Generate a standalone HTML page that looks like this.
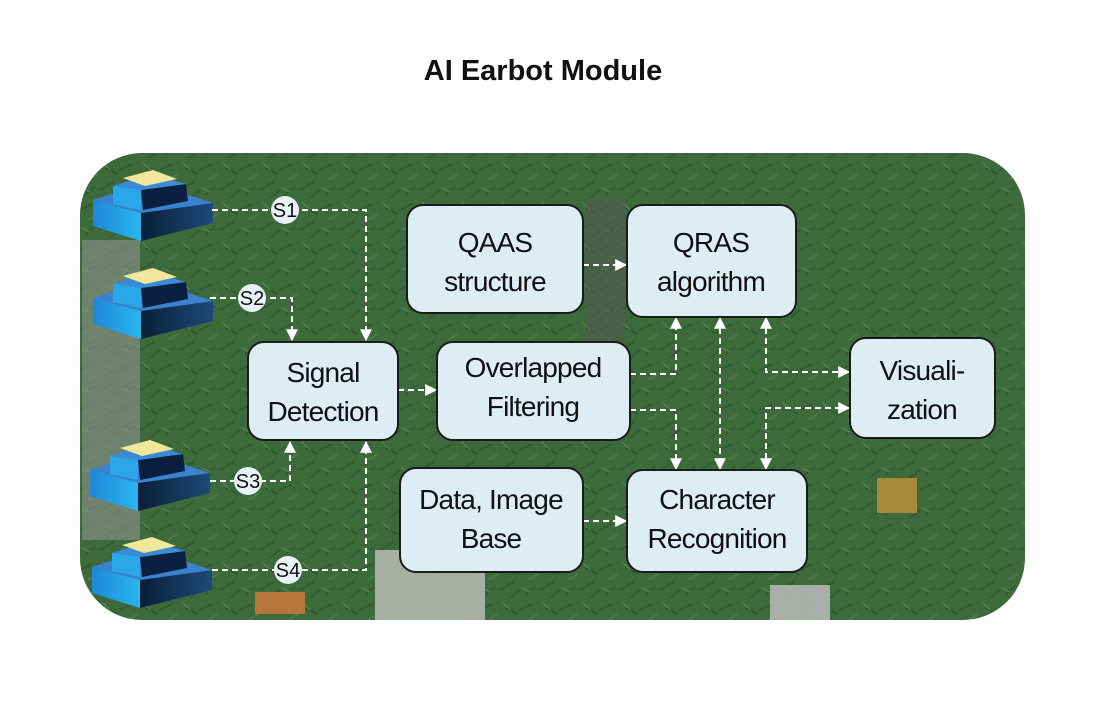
<!DOCTYPE html>
<html><head><meta charset="utf-8"><style>
html,body{margin:0;padding:0;background:#fff;width:1115px;height:725px;overflow:hidden}
svg{display:block}
text{font-family:"Liberation Sans",Arial,sans-serif}
</style></head><body>
<svg width="1115" height="725" viewBox="0 0 1115 725" xmlns="http://www.w3.org/2000/svg">
<defs>
<linearGradient id="cy" x1="0" y1="0" x2="1" y2="0"><stop offset="0" stop-color="#1e88d8"/><stop offset="1" stop-color="#29b6f0"/></linearGradient>
<linearGradient id="dk" x1="0" y1="0" x2="1" y2="0"><stop offset="0" stop-color="#0a1e38"/><stop offset="1" stop-color="#1d4a78"/></linearGradient>
<marker id="ar" viewBox="0 0 10 10" refX="9" refY="5" markerWidth="12" markerHeight="12" markerUnits="userSpaceOnUse" orient="auto-start-reverse"><path d="M0,0L10,5L0,10z" fill="#fff"/></marker>
<pattern id="pcb" width="40" height="40" patternUnits="userSpaceOnUse">
<rect width="40" height="40" fill="#3c6a3a"/>
<path d="M0,10L12,4M20,30L34,22M5,35L15,26M25,8L38,14M30,38L40,30" stroke="#2c5530" stroke-width="1.3"/>
<path d="M8,20L18,14M22,2L30,10M2,28L10,32" stroke="#5a8756" stroke-width="1"/>
</pattern>
<g id="sensor">
<polygon points="0,32 48,45 48,73 0,58" fill="url(#cy)"/>
<polygon points="48,45 120,35 120,55 48,73" fill="url(#dk)"/>
<polygon points="0,32 55,14 120,35 48,45" fill="#3a82d0"/>
<polygon points="48,22 50,42 95,33 93,16" fill="#0b2040"/>
<polygon points="48,22 48,42 20,36 20,18" fill="#2aa7e8"/>
<polygon points="20,18 58,6 93,16 48,22" fill="#3b8ad8"/>
<polygon points="30,10 60,2 84,11 52,18" fill="#f1e79a"/>
</g>
</defs>
<text x="543" y="80" text-anchor="middle" font-size="29" font-weight="bold" fill="#111" font-family="'DejaVu Sans',sans-serif">AI Earbot Module</text>
<rect x="80" y="153" width="945" height="467" rx="62" fill="url(#pcb)"/>
<rect x="82" y="240" width="58" height="300" fill="#8f9490" opacity="0.6"/>
<rect x="585" y="200" width="40" height="140" fill="#555" opacity="0.5"/>
<rect x="375" y="550" width="110" height="70" fill="#b9bbb5" opacity="0.85"/>
<rect x="255" y="592" width="50" height="22" fill="#b5763a"/>
<rect x="770" y="585" width="60" height="35" fill="#bbb" opacity="0.85"/>
<rect x="877" y="478" width="40" height="35" fill="#a68a3a"/>
<use href="#sensor" x="93" y="168"/>
<use href="#sensor" x="93" y="266"/>
<use href="#sensor" x="90" y="438"/>
<use href="#sensor" x="92" y="535"/>
<g stroke="#fff" stroke-width="2" stroke-dasharray="6,4" fill="none" marker-end="url(#ar)">
<path d="M212,210H366V340"/>
<path d="M210,298H292V340"/>
<path d="M210,481H290V442"/>
<path d="M212,570H366V442"/>
<path d="M398,390H436"/>
<path d="M583,265H626"/>
<path d="M630,374H676V318"/>
<path d="M630,410H676V469"/>
<path d="M720,318V469" marker-start="url(#ar)"/>
<path d="M766,318V372H849" marker-start="url(#ar)"/>
<path d="M766,469V408H849" marker-start="url(#ar)"/>
<path d="M583,521H626"/>
</g>
<g font-size="20" text-anchor="middle" fill="#111">
<circle cx="285" cy="210" r="14" fill="#e8f2f6"/><text x="285" y="217">S1</text>
<circle cx="252" cy="298" r="14" fill="#e8f2f6"/><text x="252" y="305">S2</text>
<circle cx="248" cy="481" r="14" fill="#e8f2f6"/><text x="248" y="488">S3</text>
<circle cx="288" cy="570" r="14" fill="#e8f2f6"/><text x="288" y="577">S4</text>
</g>
<g fill="#dcedf4" stroke="#1b1b1b" stroke-width="2">
<rect x="407" y="205" width="176" height="108" rx="16"/>
<rect x="627" y="205" width="169" height="112" rx="16"/>
<rect x="248" y="342" width="150" height="98" rx="16"/>
<rect x="437" y="342" width="193" height="98" rx="16"/>
<rect x="850" y="338" width="145" height="100" rx="16"/>
<rect x="400" y="468" width="183" height="104" rx="16"/>
<rect x="627" y="470" width="180" height="102" rx="16"/>
</g>
<g font-size="28" text-anchor="middle" fill="#111" letter-spacing="-0.8">
<text x="495" y="252">QAAS</text><text x="495" y="291">structure</text>
<text x="711" y="252">QRAS</text><text x="711" y="291">algorithm</text>
<text x="323" y="382">Signal</text><text x="323" y="421">Detection</text>
<text x="533" y="377">Overlapped</text><text x="533" y="416">Filtering</text>
<text x="922" y="380">Visuali-</text><text x="922" y="419">zation</text>
<text x="491" y="509">Data, Image</text><text x="491" y="548">Base</text>
<text x="717" y="509">Character</text><text x="717" y="548">Recognition</text>
</g>
</svg>
</body></html>
